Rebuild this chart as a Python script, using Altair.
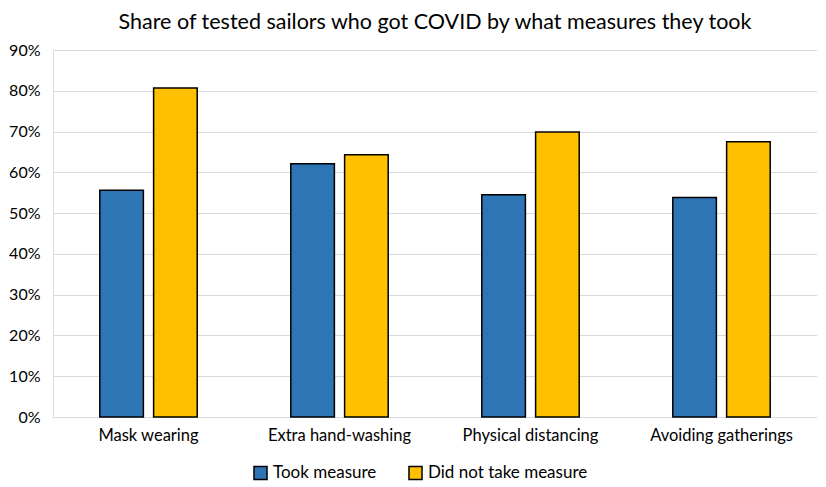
import altair as alt
import pandas as pd

categories = ["Mask wearing", "Extra hand-washing", "Physical distancing", "Avoiding gatherings"]
series = ["Took measure", "Did not take measure"]
took = [0.556, 0.621, 0.545, 0.538]
did_not = [0.807, 0.643, 0.699, 0.675]
colors = ["#2E75B6", "#FFC000"]

rows = []
for c, a, b in zip(categories, took, did_not):
    rows.append({"measure": c, "series": series[0], "share": a})
    rows.append({"measure": c, "series": series[1], "share": b})
df = pd.DataFrame(rows)

FONT = "Lato"

chart = alt.Chart(df).mark_bar(stroke="black", strokeWidth=1.5).encode(
    x=alt.X("measure:N", sort=categories, title=None,
            scale=alt.Scale(paddingInner=0.49, paddingOuter=0.245),
            axis=alt.Axis(labelAngle=0, labelFontSize=16.5, labelColor="black", labelFont=FONT,
                          domain=False, ticks=False, labelPadding=10)),
    xOffset=alt.XOffset("series:N", sort=series, scale=alt.Scale(paddingInner=0.19, paddingOuter=0)),
    y=alt.Y("share:Q", title=None,
            scale=alt.Scale(domain=[0, 0.9], nice=False),
            axis=alt.Axis(format=".0%", values=[i / 10 for i in range(10)], labelFontSize=16,
                          labelColor="black", labelFont=FONT, domain=False, ticks=False,
                          gridColor="#d9d9d9", gridWidth=1, labelPadding=13)),
    color=alt.Color("series:N", sort=series, scale=alt.Scale(domain=series, range=colors),
                    legend=alt.Legend(title=None, orient="none", legendX=199, legendY=414,
                                      direction="horizontal",
                                      symbolType="square", symbolStrokeColor="black",
                                      symbolStrokeWidth=1.5, symbolSize=170, symbolOpacity=1,
                                      labelFontSize=17, labelFont=FONT, labelColor="black",
                                      columnPadding=28)),
).properties(
    width=764, height=367,
    title=alt.Title("Share of tested sailors who got COVID by what measures they took",
                    fontSize=21.5, font=FONT, fontWeight="normal", color="black", offset=9),
).configure_view(stroke=None).configure(padding={"left": 0, "right": 0, "top": 3, "bottom": 0})

chart.save("out.html", embed_options={"renderer": "svg", "actions": False})
